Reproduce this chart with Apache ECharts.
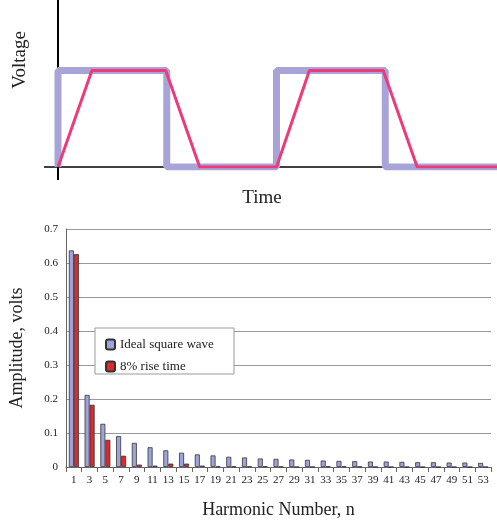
<!DOCTYPE html>
<html>
<head>
<meta charset="utf-8">
<script src="https://cdn.jsdelivr.net/npm/echarts@6/dist/echarts.min.js"></script>
<style>html,body{margin:0;padding:0;background:#fff}#chart{width:497px;height:522px}</style>
</head>
<body>
<div id="chart"></div>
<script>
// 谐波编号
var harmonics = ['1','3','5','7','9','11','13','15','17','19','21','23','25','27','29','31','33','35','37','39','41','43','45','47','49','51','53'];
// 理想方波幅值
var idealValues = [0.637,0.212,0.127,0.091,0.071,0.058,0.049,0.042,0.037,0.034,0.030,0.028,0.025,0.024,0.022,0.021,0.019,0.018,0.017,0.016,0.016,0.015,0.014,0.014,0.013,0.013,0.012];
// 8%上升时间幅值
var riseValues = [0.626,0.183,0.080,0.033,0.007,0.004,0.010,0.010,0.004,0.002,0.002,0.002,0.002,0.001,0,0,0.002,0.002,0.001,0,0,0,0,0,0,0,0];
var yTicks = [0,0.1,0.2,0.3,0.4,0.5,0.6,0.7];
// 波形 (时间, 电压)
var squareWave = [[0,0],[0,1],[109,1],[109,0],[219,0],[219,1],[328,1],[328,0],[440,0]];
var riseWave = [[0,0],[34,1],[108,1],[142,0],[219,0],[252,1],[326,1],[360,0],[440,0]];

var font = 'Liberation Serif';
var option = {
    animation: false,
    textStyle: {fontFamily: font},
    grid: [
        {left: 58, top: 0, width: 439, height: 167},
        {left: 57, top: 229, right: 6, bottom: 55}
    ],
    graphic: [
        {type: 'line', shape: {x1: 58, y1: 0, x2: 58, y2: 180}, style: {stroke: '#000', lineWidth: 2}},
        {type: 'line', shape: {x1: 44, y1: 167, x2: 497, y2: 167}, style: {stroke: '#000', lineWidth: 1.5}},
        {type: 'text', x: 262, y: 198, style: {text: 'Time', font: '19px ' + font, fill: '#222', align: 'center', verticalAlign: 'middle'}},
        {type: 'text', x: 20, y: 60, rotation: Math.PI / 2, style: {text: 'Voltage', font: '19px ' + font, fill: '#222', align: 'center', verticalAlign: 'middle'}},
        {type: 'rect', shape: {x: 95, y: 328, width: 139, height: 46}, style: {fill: '#fff', stroke: '#999', lineWidth: 1}, z: 5}
    ],
    legend: {
        left: 100, top: 333, orient: 'vertical', itemWidth: 9, itemHeight: 10, itemGap: 9, z: 10,
        textStyle: {fontFamily: font, fontSize: 13, color: '#222'},
        data: ['Ideal square wave', '8% rise time']
    },
    xAxis: [
        {gridIndex: 0, type: 'value', min: 0, max: 440, show: false},
        {gridIndex: 1, type: 'category', data: harmonics,
            axisLine: {lineStyle: {color: '#666'}}, axisTick: {show: true, lineStyle: {color: '#666'}},
            axisLabel: {interval: 0, fontSize: 11, color: '#222', margin: 8},
            name: 'Harmonic Number, n', nameLocation: 'middle', nameGap: 34,
            nameTextStyle: {fontSize: 18, color: '#222'}}
    ],
    yAxis: [
        {gridIndex: 0, type: 'value', min: 0, max: 1.73, show: false},
        {gridIndex: 1, type: 'value', min: 0, max: 0.7, interval: 0.1,
            axisLine: {show: true, lineStyle: {color: '#666'}},
            axisLabel: {fontSize: 11, color: '#222', formatter: function (v) { return yTicks.indexOf(Math.round(v * 10) / 10) >= 0 ? String(Math.round(v * 10) / 10) : ''; }},
            splitLine: {lineStyle: {color: '#999'}},
            name: 'Amplitude, volts', nameLocation: 'middle', nameGap: 40,
            nameTextStyle: {fontSize: 18, color: '#222'}}
    ],
    series: [
        {type: 'line', xAxisIndex: 0, yAxisIndex: 0, data: squareWave, symbol: 'none',
            lineStyle: {color: '#a8a4d8', width: 7}, silent: true},
        {type: 'line', xAxisIndex: 0, yAxisIndex: 0, data: riseWave, symbol: 'none',
            lineStyle: {color: '#ee3a7a', width: 3}, silent: true},
        {name: 'Ideal square wave', type: 'bar', xAxisIndex: 1, yAxisIndex: 1, data: idealValues,
            barWidth: 5, barGap: '0%', itemStyle: {color: '#9ea3dc', borderColor: '#333', borderWidth: 0.8}},
        {name: '8% rise time', type: 'bar', xAxisIndex: 1, yAxisIndex: 1, data: riseValues,
            barWidth: 5, itemStyle: {color: '#e02828', borderColor: '#333', borderWidth: 0.8}}
    ]
};

var myChart = echarts.init(document.getElementById('chart'));
myChart.setOption(option);
</script>
</body>
</html>
